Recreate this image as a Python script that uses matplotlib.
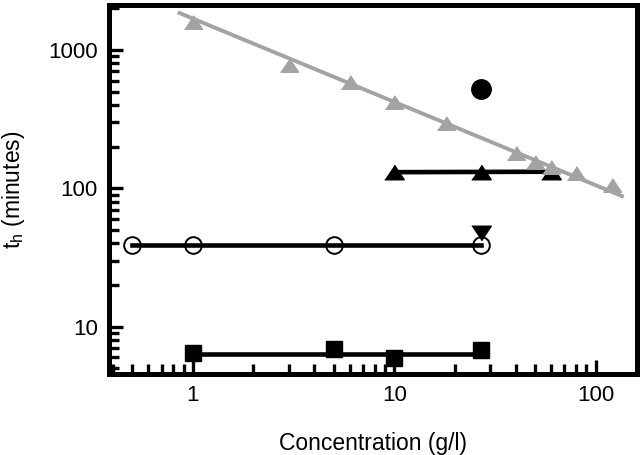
import numpy as np
import matplotlib
matplotlib.use("Agg")
import matplotlib.pyplot as plt
from matplotlib.ticker import LogLocator, NullFormatter, FixedLocator, FixedFormatter

plt.rcParams['font.family'] = ['Liberation Sans', 'DejaVu Sans']
plt.rcParams['mathtext.fontset'] = 'custom'
plt.rcParams['mathtext.rm'] = 'Liberation Sans'

# gray series (power-law) and its fitted line
gray_x = [1.0, 3.0, 6.0, 10.0, 18.0, 40.0, 50.0, 60.0, 80.0, 120.0]
gray_y = [1590, 780, 590, 420, 297, 180, 155, 142, 129, 106]
gray_line_x = [0.86, 135]
gray_line_y = [1850, 88]

# black up-triangles
tri_x = [10.0, 27.0, 60.0]
tri_y = [131, 131, 132]
tri_line_x = [10.0, 60.0]
tri_line_y = [131, 132]

# black circle and down-triangle
dot_x = [27.0]
dot_y = [522]
down_x = [27.0]
down_y = [48]

# open circles
open_x = [0.5, 1.0, 5.0, 27.0]
open_y = [39, 39, 39, 39]

# squares
sq_x = [1.0, 5.0, 10.0, 27.0]
sq_y = [6.45, 6.9, 5.95, 6.8]
sq_line_x = [1.0, 27.0]
sq_line_y = [6.4, 6.4]

up_marker = [(-1, -0.75), (1, -0.75), (0, 0.75)]
down_marker = [(-1, 0.75), (1, 0.75), (0, -0.75)]

fig = plt.figure(figsize=(6.4, 4.55), dpi=100)
ax = fig.add_axes([0.170, 0.179, 0.825, 0.809])

ax.plot(open_x, open_y, color='black', lw=3.3, marker='o', ms=12,
        mfc='none', mec='black', mew=1.4, zorder=3)
ax.plot(sq_line_x, sq_line_y, color='black', lw=3.3, zorder=3)
ax.plot(sq_x, sq_y, ls='none', marker='s', ms=12, color='black', zorder=4)
ax.plot(tri_line_x, tri_line_y, color='black', lw=3.3, zorder=3)
ax.plot(tri_x, tri_y, ls='none', marker=up_marker, ms=14, color='black', zorder=4)
ax.plot(dot_x, dot_y, ls='none', marker='o', ms=14, color='black', zorder=4)
ax.plot(down_x, down_y, ls='none', marker=down_marker, ms=14, color='black', zorder=4)

ax.plot(gray_line_x, gray_line_y, color='#a3a3a3', lw=2.8, zorder=5)
ax.plot(gray_x, gray_y, ls='none', marker=up_marker, ms=13, color='#a3a3a3', zorder=5)

ax.set_xscale('log')
ax.set_yscale('log')
ax.set_xlim(0.383, 160)
ax.set_ylim(4.59, 2100)

ax.xaxis.set_major_locator(FixedLocator([1, 10, 100]))
ax.xaxis.set_major_formatter(FixedFormatter(['1', '10', '100']))
ax.yaxis.set_major_locator(FixedLocator([10, 100, 1000]))
ax.yaxis.set_major_formatter(FixedFormatter(['10', '100', '1000']))
ax.xaxis.set_minor_locator(LogLocator(base=10, subs=np.arange(2, 10)))
ax.yaxis.set_minor_locator(LogLocator(base=10, subs=np.arange(2, 10)))
ax.xaxis.set_minor_formatter(NullFormatter())
ax.yaxis.set_minor_formatter(NullFormatter())

for s in ax.spines.values():
    s.set_linewidth(3.6)

ax.tick_params(which='major', direction='in', length=10, width=2.4,
               labelsize=16, top=False, right=False)
ax.tick_params(which='minor', direction='in', length=7, width=2.4,
               top=False, right=False)
ax.tick_params(axis='x', which='major', pad=8)
ax.tick_params(axis='y', which='major', pad=8)

ax.set_xlabel('Concentration (g/l)', fontsize=16.5, labelpad=19)
ax.set_ylabel(r'$\mathregular{t_h}$ (minutes)', fontsize=16.5, labelpad=15)

fig.savefig('out.png', dpi=100)
